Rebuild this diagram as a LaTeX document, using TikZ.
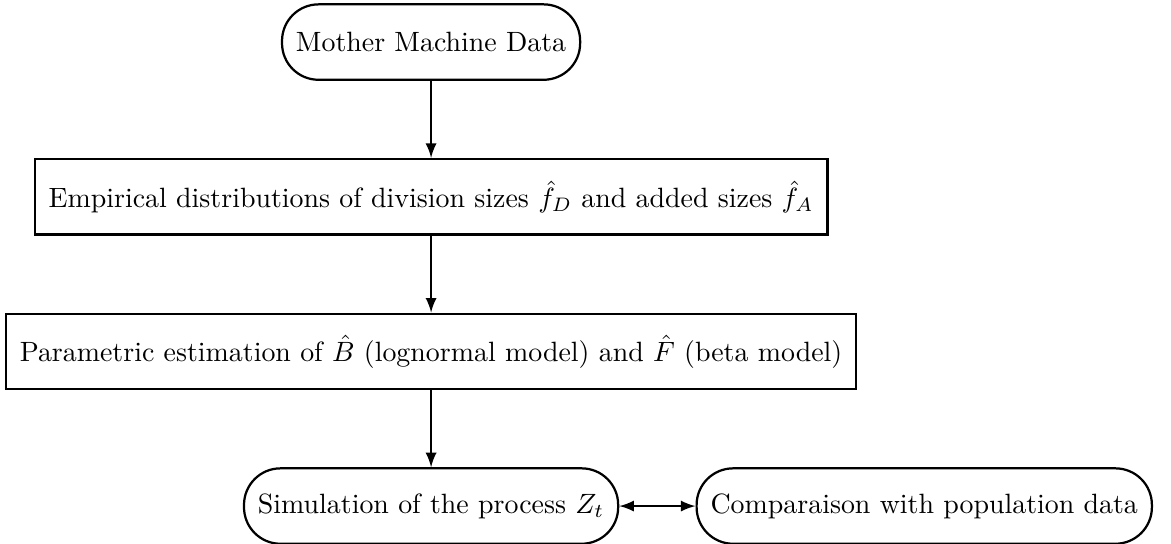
\documentclass[tikz,border=0pt]{standalone}
\usetikzlibrary{positioning,arrows}
\begin{document}
\begin{tikzpicture}[node distance=0.97cm, thick,
  block/.style={draw, rectangle, minimum height=0.95cm, inner xsep=5pt},
  roundblock/.style={block, rounded corners=0.46cm}]
\useasboundingbox (-5.43,0.53) rectangle (9.32,-6.32);

\node[roundblock] (data) at (0,0) {Mother Machine Data};
\node[block, below=of data] (emp) {Empirical distributions of division sizes $\hat{f}_D$ and added sizes $\hat{f}_A$};
\node[block, below=of emp] (est) {Parametric estimation of $\hat{B}$ (lognormal model) and $\hat{F}$ (beta model)};
\node[roundblock, below=of est] (sim) {Simulation of the process $Z_t$};
\node[roundblock, right=0.96cm of sim] (comp) {Comparaison with population data};

\draw[-latex] (data) -- (emp);
\draw[-latex] (emp) -- (est);
\draw[-latex] (est) -- (sim);
\draw[latex-latex] (sim) -- (comp);
\end{tikzpicture}
\end{document}
